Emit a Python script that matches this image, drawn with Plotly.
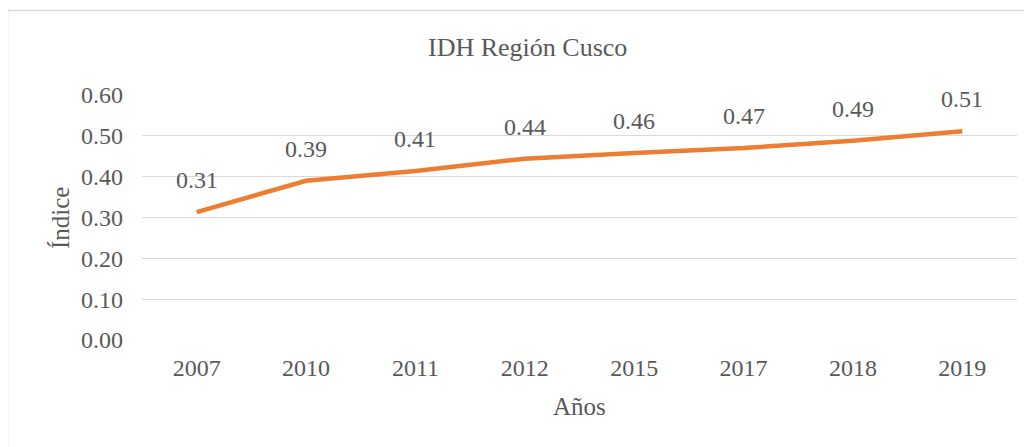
import plotly.graph_objects as go

years = ["2007", "2010", "2011", "2012", "2015", "2017", "2018", "2019"]
idh = [0.313, 0.390, 0.414, 0.444, 0.458, 0.470, 0.488, 0.511]
y_ticks = [0.0, 0.1, 0.2, 0.3, 0.4, 0.5, 0.6]
title_text = "IDH Región Cusco"
x_title = "Años"
y_title = "Índice"

FONT = "Liberation Serif, Times New Roman, serif"
GREY = "#595959"

fig = go.Figure()
fig.add_trace(go.Scatter(
    x=years, y=idh, mode="lines",
    line=dict(color="#ED7D31", width=4.5),
    hoverinfo="skip", showlegend=False,
))

for i, v in enumerate(idh):
    fig.add_annotation(x=i, y=v, xref="x", yref="y", text=f"{v:.2f}",
                       showarrow=False, yshift=32,
                       font=dict(family=FONT, size=24, color=GREY))

OFF = 8  # page offset of the figure
W, H = 1032, 447
L, R, T, B = 142 - OFF, 23, 95 - OFF, 115
pw, ph = W - L - R, H - T - B

def px(xs):
    return (xs - OFF - L) / pw

def py(ys):
    return (H - B - (ys - OFF)) / ph

# chart border (extends past the right/bottom of the image)
fig.add_shape(type="rect", xref="paper", yref="paper",
              x0=px(7.5), x1=px(1070), y0=py(10.5), y1=py(480),
              line=dict(color="#D9D9D9", width=1.5), fillcolor="rgba(0,0,0,0)", layer="below")

fig.add_annotation(xref="paper", yref="paper", x=px(527), y=py(47), text=title_text,
                   showarrow=False, font=dict(family=FONT, size=26, color=GREY),
                   xanchor="center", yanchor="middle")
fig.add_annotation(xref="paper", yref="paper", x=px(579.5), y=py(406), text=x_title,
                   showarrow=False, font=dict(family=FONT, size=25, color=GREY),
                   xanchor="center", yanchor="middle")
fig.add_annotation(xref="paper", yref="paper", x=px(60), y=py(218), text=y_title,
                   showarrow=False, textangle=-90, font=dict(family=FONT, size=25, color=GREY),
                   xanchor="center", yanchor="middle")

fig.update_layout(
    width=W, height=H,
    margin=dict(l=L, r=R, t=T, b=B, autoexpand=False),
    paper_bgcolor="white", plot_bgcolor="white",
    font=dict(family=FONT, size=24, color=GREY),
)
fig.update_xaxes(type="category", range=[-0.5, len(years) - 0.5],
                 showgrid=False, showline=False, zeroline=False, automargin=False,
                 ticks="", ticklabelstandoff=11,
                 tickfont=dict(family=FONT, size=24, color=GREY))
fig.update_yaxes(range=[0, 0.6], tickvals=y_ticks, tickformat=".2f", automargin=False,
                 showgrid=True, gridcolor="#D9D9D9", gridwidth=1.3,
                 zeroline=False, showline=False, ticks="", ticklabelstandoff=18,
                 tickfont=dict(family=FONT, size=24, color=GREY))

fig.write_html("out.html")
